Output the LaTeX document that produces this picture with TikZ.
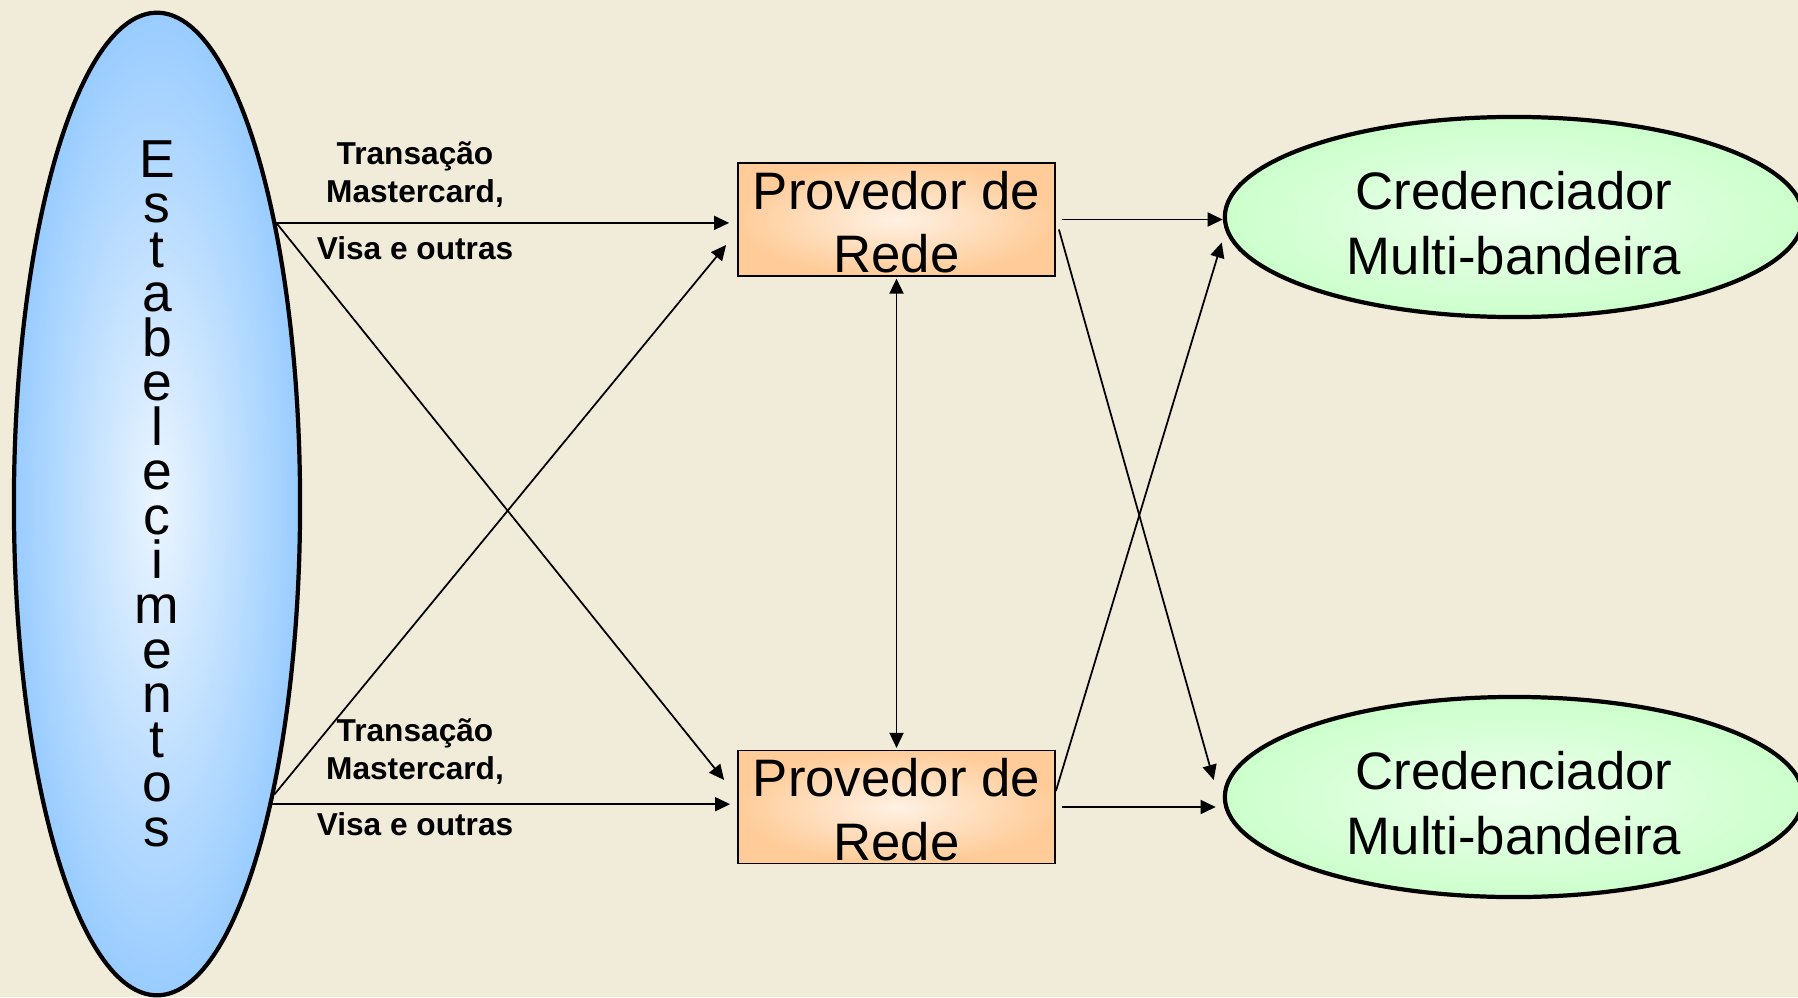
\documentclass[tikz,border=0pt]{standalone}
\usepackage{fontspec}
\setmainfont{Liberation Sans}
\usetikzlibrary{arrows.meta,shapes.geometric,calc}
\definecolor{bg}{RGB}{241,236,218}
\definecolor{blueout}{RGB}{153,204,255}
\definecolor{bluein}{RGB}{236,245,255}
\definecolor{orout}{RGB}{255,204,153}
\definecolor{orin}{RGB}{255,241,228}
\definecolor{grout}{RGB}{204,255,204}
\definecolor{grin}{RGB}{238,255,238}
\begin{document}
\begin{tikzpicture}[x=0.01cm,y=-0.01cm,
  arr/.style={-{Triangle[length=4.3pt,width=4pt]}, line width=0.5pt},
  darr/.style={{Triangle[length=4.3pt,width=4pt]}-{Triangle[length=4.3pt,width=4pt]}, line width=0.5pt},
  leftell/.style={ellipse, draw, line width=1.2pt, inner sep=0pt, minimum width=2.86cm, minimum height=9.82cm, inner color=bluein, outer color=blueout},
  vletter/.style={anchor=base, inner sep=0pt, font=\fontsize{15.2}{15.2}\selectfont},
  provbox/.style={rectangle, draw, line width=0.45pt, inner sep=0pt, minimum width=3.17cm, minimum height=1.13cm, inner color=orin, outer color=orout},
  provtext/.style={align=center, inner sep=0pt, font=\fontsize{15}{18}\selectfont},
  credell/.style={ellipse, draw, line width=1.2pt, inner sep=0pt, minimum width=5.78cm, minimum height=2cm, inner color=grin, outer color=grout},
  credtext/.style={align=center, inner sep=0pt, font=\fontsize{15}{18.4}\selectfont},
  lbl/.style={align=center, inner sep=0pt, font=\bfseries\fontsize{9}{10.8}\selectfont}
]
\useasboundingbox (0,0) rectangle (1798,997);
\clip (0,0) rectangle (1798,997);
\fill[bg] (0,0) rectangle (1798,997);

% nodes
\node[leftell] (E) at (157,504) {};
\foreach \ch [count=\k from 0] in {E,s,t,a,b,e,l,e,c,i,m,e,n,t,o,s}
  \node[vletter] (T\k) at (157,{178+44.55*\k}) {\ch};
\node[provbox, label={[provtext, yshift=-0.025cm]center:Provedor de\\Rede}] (P1) at (896.5,219.5) {};
\node[provbox, label={[provtext, yshift=-0.025cm]center:Provedor de\\Rede}] (P2) at (896.5,807) {};
\node[credell, label={[credtext, yshift=-0.06cm]center:Credenciador\\Multi-bandeira}] (C1) at (1514,217) {};
\node[credell, label={[credtext, yshift=-0.06cm]center:Credenciador\\Multi-bandeira}] (C2) at (1514,797) {};

\node[lbl] (L1) at (415,174.5) {Transação\\Mastercard,};
\node[lbl] (L2) at (415,248) {Visa e outras};
\node[lbl] (L3) at (415,751.5) {Transação\\Mastercard,};
\node[lbl] (L4) at (415,824) {Visa e outras};

% connectors left
\draw[arr, shorten >=0.08cm] (E.67.5) -- (E.67.5 -| P1.west);
\draw[arr] (E.67) -- ([xshift=-0.13cm,yshift=0.27cm]P2.west);
\draw[arr] (E.-68) -- ([xshift=-0.11cm,yshift=-0.255cm]P1.west);
\draw[arr, shorten >=0.07cm] (E.-69.3) -- (E.-69.3 -| P2.west);
% vertical
\draw[darr, shorten <=0.5pt, shorten >=0.5pt] (P1.south) -- (P2.north);
% connectors right
\draw[arr, shorten <=0.06cm] (P1.east) -- (P1.east -| C1.west);
\draw[arr] ([xshift=0.03cm,yshift=-0.1cm]P1.east) -- ([xshift=-0.09cm,yshift=0.17cm]C2.west);
\draw[arr] ([yshift=0.16cm]P2.east) -- ([xshift=-0.01cm,yshift=-0.255cm]C1.west);
\draw[arr, shorten <=0.06cm, shorten >=0.07cm] (P2.east) -- (P2.east -| C2.west);
\end{tikzpicture}
\end{document}
